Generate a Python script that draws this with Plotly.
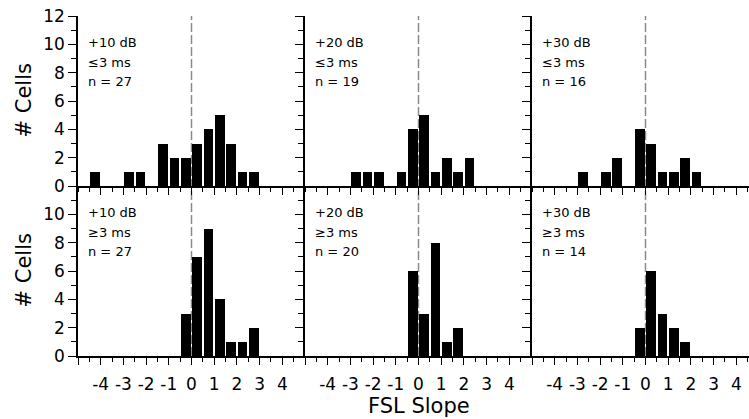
import plotly.graph_objects as go

# ---------------- data ----------------
bin_centers = [-4.75, -4.25, -3.75, -3.25, -2.75, -2.25, -1.75, -1.25, -0.75, -0.25,
               0.25, 0.75, 1.25, 1.75, 2.25, 2.75, 3.25, 3.75, 4.25, 4.75]

counts_10db_short = [0, 1, 0, 0, 1, 1, 0, 3, 2, 2, 3, 4, 5, 3, 1, 1, 0, 0, 0, 0]
counts_20db_short = [0, 0, 0, 0, 1, 1, 1, 0, 1, 4, 5, 1, 2, 1, 2, 0, 0, 0, 0, 0]
counts_30db_short = [0, 0, 0, 0, 1, 0, 1, 2, 0, 4, 3, 1, 1, 2, 1, 0, 0, 0, 0, 0]
counts_10db_long = [0, 0, 0, 0, 0, 0, 0, 0, 0, 3, 7, 9, 4, 1, 1, 2, 0, 0, 0, 0]
counts_20db_long = [0, 0, 0, 0, 0, 0, 0, 0, 0, 6, 3, 8, 1, 2, 0, 0, 0, 0, 0, 0]
counts_30db_long = [0, 0, 0, 0, 0, 0, 0, 0, 0, 2, 6, 3, 2, 1, 0, 0, 0, 0, 0, 0]

level_labels = ["+10 dB", "+20 dB", "+30 dB"]
latency_labels = ["\u22643 ms", "\u22653 ms"]
n_labels = [["n = 27", "n = 19", "n = 16"], ["n = 27", "n = 20", "n = 14"]]

x_tickvals = [-5, -4, -3, -2, -1, 0, 1, 2, 3, 4, 5]
x_ticktext = ["", "-4", "-3", "-2", "-1", "0", "1", "2", "3", "4", ""]
y_tickvals_top = [0, 2, 4, 6, 8, 10, 12]
y_ticktext_top = ["0", "2", "4", "6", "8", "10", "12"]
y_tickvals_bot = [0, 2, 4, 6, 8, 10, 12]
y_ticktext_bot = ["0", "2", "4", "6", "8", "10", ""]

panels = [[counts_10db_short, counts_20db_short, counts_30db_short],
          [counts_10db_long, counts_20db_long, counts_30db_long]]

# ---------------- layout geometry ----------------
W, H = 749, 419
ML, MR, MT, MB = 78, 0, 16, 63
plot_w = W - ML - MR
unit_px = 22.7
panel_px = 10 * unit_px
col_domains = [[0, panel_px / plot_w], [panel_px / plot_w, 2 * panel_px / plot_w],
               [2 * panel_px / plot_w, 1.0]]
col_ranges = [[-5, 5], [-5, 5], [-5, -5 + (plot_w - 2 * panel_px) / unit_px]]
row_domains = [[0.5, 1.0], [0.0, 0.5]]

FONT = "DejaVu Sans, Liberation Sans, Arial, sans-serif"

fig = go.Figure()
layout = dict(
    width=W, height=H,
    margin=dict(l=ML, r=MR, t=MT, b=MB),
    paper_bgcolor="white", plot_bgcolor="white",
    showlegend=False,
    font=dict(family=FONT, color="black"),
    bargap=0,
)

annotations = []
shapes = []

for r in range(2):
    for c in range(3):
        k = r * 3 + c + 1
        xa = "x" if k == 1 else f"x{k}"
        ya = "y" if k == 1 else f"y{k}"
        fig.add_trace(go.Bar(
            x=bin_centers, y=panels[r][c], width=0.43,
            marker=dict(color="black", line=dict(width=0)),
            xaxis=xa, yaxis=ya, hoverinfo="skip",
        ))
        xkey = "xaxis" if k == 1 else f"xaxis{k}"
        ykey = "yaxis" if k == 1 else f"yaxis{k}"
        layout[xkey] = dict(
            domain=col_domains[c], anchor=ya, range=col_ranges[c],
            showgrid=False, zeroline=False,
            showline=True, linecolor="black", linewidth=1.5,
            ticks="outside", ticklen=7, tickwidth=1.3, tickcolor="black",
            tickmode="array", tickvals=x_tickvals, ticktext=x_ticktext,
            showticklabels=(r == 1),
            tickfont=dict(size=17, family=FONT),
            ticklabelstandoff=5,
            minor=dict(ticks="outside", ticklen=4, tickwidth=1.1, tickcolor="black",
                       dtick=0.5, tick0=0, showgrid=False),
            fixedrange=True,
        )
        layout[ykey] = dict(
            domain=row_domains[r], anchor=xa, range=[0, 12],
            showgrid=False, zeroline=False,
            showline=True, linecolor="black", linewidth=1.5,
            ticks="outside", ticklen=8, tickwidth=1.3, tickcolor="black",
            tickmode="array",
            tickvals=y_tickvals_top if r == 0 else y_tickvals_bot,
            ticktext=y_ticktext_top if r == 0 else y_ticktext_bot,
            showticklabels=(c == 0),
            tickfont=dict(size=17, family=FONT),
            minor=dict(ticks="outside", ticklen=5, tickwidth=1.1, tickcolor="black",
                       dtick=1, tick0=0, showgrid=False),
            fixedrange=True,
        )
        # panel labels
        for txt, yy in zip([level_labels[c], latency_labels[r], n_labels[r][c]],
                           [10.1, 8.75, 7.4]):
            annotations.append(dict(
                x=-4.65, y=yy, xref=xa, yref=ya, text=txt, showarrow=False,
                xanchor="left", yanchor="middle",
                font=dict(size=13, family=FONT, color="black"),
            ))

# dashed zero line spanning both rows of each column
for c in range(3):
    xa = "x" if c == 0 else f"x{c + 1}"
    shapes.append(dict(
        type="line", xref=xa, yref="paper", x0=0, x1=0, y0=0, y1=1,
        line=dict(color="#8a8a8a", width=1.5, dash="9px,3px"), layer="below",
    ))

# axis titles
for yy in (0.75, 0.25):
    annotations.append(dict(
        x=(23.5 - ML) / plot_w, y=yy, xref="paper", yref="paper", text="# Cells",
        textangle=-90, showarrow=False, xanchor="center", yanchor="middle",
        font=dict(size=21, family=FONT, color="black"),
    ))
annotations.append(dict(
    x=(418.5 - ML) / plot_w, y=(H - MB - 406) / (H - MT - MB), xref="paper", yref="paper",
    text="FSL Slope", showarrow=False, xanchor="center", yanchor="middle",
    font=dict(size=21, family=FONT, color="black"),
))

layout["annotations"] = annotations
layout["shapes"] = shapes
fig.update_layout(**layout)

fig.write_html("out.html", config={"displayModeBar": False})
